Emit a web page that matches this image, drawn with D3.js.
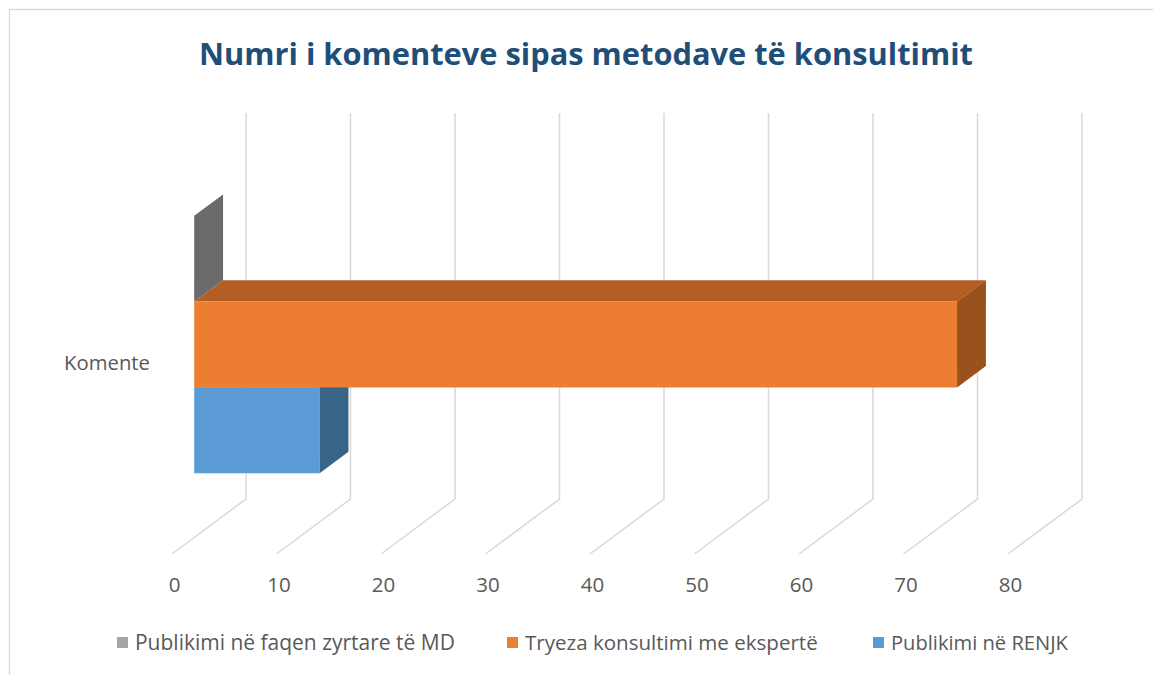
<!DOCTYPE html>
<html><head><meta charset="utf-8">
<script src="https://cdn.jsdelivr.net/npm/d3@7"></script>
<style>body{margin:0;background:#fff}svg{display:block}text{font-family:"Open Sans",sans-serif}</style>
</head><body>
<svg id="c" width="1153" height="675"></svg>
<script>
const title = "Numri i komenteve sipas metodave të konsultimit";
const categories = ["Komente"];
const seriesNames = ["Publikimi në faqen zyrtare të MD", "Tryeza konsultimi me ekspertë", "Publikimi në RENJK"];
const seriesValues = [0, 73, 12];
const tickValues = [0, 10, 20, 30, 40, 50, 60, 70, 80];
const frontColors = ["#a5a5a5", "#ed7d31", "#5b9bd5"];
const topColors = ["#7c7c7c", "#b25e24", "#44749f"];
const sideColors = ["#6b6b6b", "#9b511e", "#386487"];

const svg = d3.select("#c");
// border
svg.append("path").attr("d","M9.5,675 V9.5 H1153").attr("fill","none").attr("stroke","#d9d9d9").attr("stroke-width",1.3);

const depthDX = 74, depthDY = -55;
const x = d3.scaleLinear().domain([0, 80]).range([172, 1008]);
const y = d3.scaleBand().domain(categories).range([168, 554]).paddingInner(0).paddingOuter(0.25);
const ys = d3.scaleBand().domain(seriesNames).range([0, y.bandwidth()]);
const z0 = 0.3, z1 = 0.69;
const P = (v, yy, z) => [x(v) + z * depthDX, yy + z * depthDY];

function fit(sel, target){ const w = sel.node().getComputedTextLength(); const fs = +sel.attr("font-size"); sel.attr("font-size", fs*target/w); }

// gridlines (back wall + floor)
const grid = svg.append("g");
tickValues.forEach(t => {
  const top = P(t, y.range()[0], 1), bot = P(t, y.range()[1], 1), fr = P(t, y.range()[1], 0);
  grid.append("path").attr("d", `M${top[0]},${top[1]} L${bot[0]},${bot[1]} L${fr[0]},${fr[1]}`)
    .attr("fill","none").attr("stroke","#d9d9d9").attr("stroke-width",1.5);
});

// tick labels via axis
const axisG = svg.append("g").attr("transform","translate(2,585)")
  .call(d3.axisBottom(x).tickValues(tickValues).tickSize(0).tickPadding(0));
axisG.select(".domain").remove();
axisG.selectAll("text").attr("font-size", 20.5).attr("fill", "#595959").attr("font-family", '"Open Sans",sans-serif').attr("dy","0.35em");

// category label
const cl = svg.append("text").attr("x", 150).attr("y", y(categories[0]) + y.bandwidth()/2 + 2).attr("text-anchor","end")
  .attr("font-size", 20).attr("fill","#595959").attr("dy","0.35em").text(categories[0]);
fit(cl, 86);

// bars: draw bottom series first
const poly = pts => "M" + pts.map(p => p.join(",")).join("L") + "Z";
const bars = svg.append("g");
const order = d3.range(seriesNames.length).reverse();
order.forEach(i => {
  const v = seriesValues[i];
  const yt = y(categories[0]) + ys(seriesNames[i]);
  const yb = yt + ys.bandwidth();
  bars.append("path").attr("d", poly([P(0,yt,z0),P(v,yt,z0),P(v,yt,z1),P(0,yt,z1)])).attr("fill", topColors[i]);
  bars.append("path").attr("d", poly([P(0,yt,z0),P(v,yt,z0),P(v,yb,z0),P(0,yb,z0)])).attr("fill", frontColors[i]);
  bars.append("path").attr("d", poly([P(v,yt,z0),P(v,yt,z1),P(v,yb,z1),P(v,yb,z0)])).attr("fill", sideColors[i]);
});

// title
const tt = svg.append("text").attr("x", 586).attr("y", 65).attr("text-anchor","middle")
  .attr("font-weight", 700).attr("font-size", 30).attr("fill","#1f4e79").text(title);
fit(tt, 774);

// legend
const legX = [117, 507, 873];
const legW = [320, 293, 177];
const leg = svg.append("g");
seriesNames.forEach((n, i) => {
  leg.append("rect").attr("x", legX[i]).attr("y", 637).attr("width", 11).attr("height", 11).attr("fill", frontColors[i]);
  const t = leg.append("text").attr("x", legX[i] + 18).attr("y", 643).attr("dy","0.35em").attr("font-size", 18).attr("fill","#595959").text(n);
  fit(t, legW[i]);
});
</script>
</body></html>
